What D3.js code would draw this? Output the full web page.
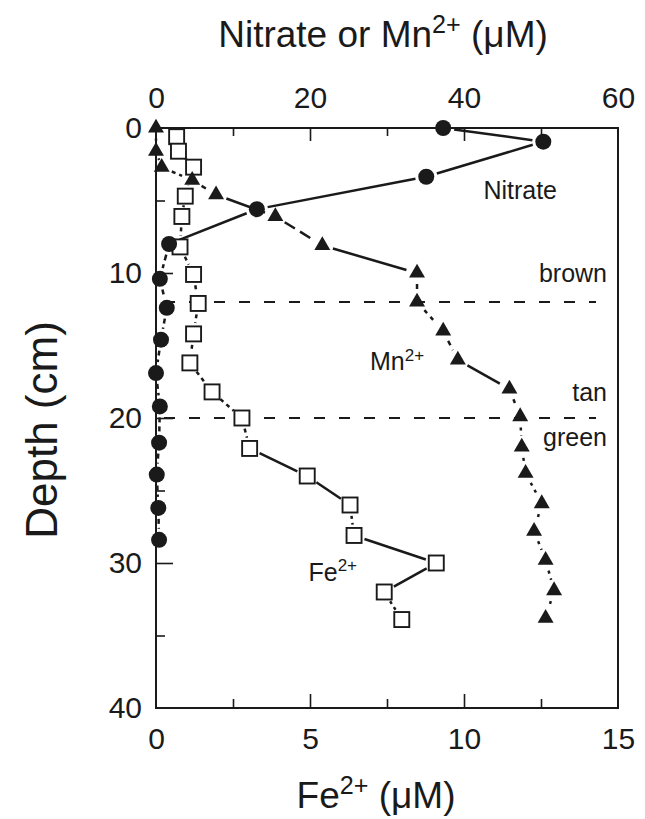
<!DOCTYPE html>
<html>
<head>
<meta charset="utf-8">
<script src="https://cdn.jsdelivr.net/npm/d3@7"></script>
<style>
  body { margin: 0; background: #fff; }
  svg { display: block; font-family: "Liberation Sans", Arial, sans-serif; }
</style>
</head>
<body>
<script>
// Depth profiles (cm)
const nitrateDepth = [0, 0.94, 3.36, 5.6, 8.0, 10.4, 12.4, 14.6, 16.9, 19.2, 21.7, 23.9, 26.2, 28.4];
const nitrateValue = [37.3, 50.3, 35.1, 13.1, 1.7, 0.5, 1.4, 0.65, 0, 0.5, 0.4, 0.1, 0.3, 0.4];

const mnDepth = [0, 1.6, 2.7, 3.6, 4.6, 6.1, 8.1, 10.0, 12.0, 14.0, 16.0, 18.0, 19.9, 22.0, 23.8, 25.9, 27.8, 29.8, 31.9, 33.8];
const mnValue = [0, 0, 0.74, 4.7, 7.8, 15.5, 21.6, 33.9, 33.9, 37.3, 39.2, 45.9, 47.3, 47.5, 48.0, 50.1, 49.1, 50.6, 51.7, 50.6];

const feDepth = [0.6, 1.6, 2.7, 4.7, 6.1, 8.2, 10.1, 12.1, 14.2, 16.2, 18.2, 20.0, 22.1, 24.0, 26.0, 28.1, 30.0, 32.0, 33.9];
const feValue = [0.67, 0.73, 1.22, 0.95, 0.84, 0.78, 1.22, 1.37, 1.22, 1.1, 1.82, 2.79, 3.04, 4.91, 6.3, 6.43, 9.1, 7.41, 7.98];

// sediment colour boundaries
const zoneBreaks = [12, 20];

const depthTicks = [0, 10, 20, 30, 40];
const topTicks = [0, 20, 40, 60];
const feTicks = [0, 5, 10, 15];

// dash pattern of each connecting segment (hand-drawn in the original)
const nitrateDash = ["", "", "", "", "6,4", "5,4", "5,4", "5,4", "5,4", "5,4", "5,4", "5,4", "5,4"];
const mnDash = ["4,4", "4,4", "4,4", "5,4", "", "12,6", "", "5,4", "4,5", "5,5", "", "4,4", "3,5", "3,5", "3,5", "3,5", "3,5", "3,5", "3,5"];
const feDash = ["4,4", "4,4", "4,4", "4,4", "4,4", "4,4", "4,4", "4,4", "4,4", "4,4", "4,4", "4,4", "", "", "3,4", "", "", "3,4"];

const W = 645, H = 819;
const margin = { top: 128, right: 27, bottom: 111, left: 156 };
const innerW = W - margin.left - margin.right;
const innerH = H - margin.top - margin.bottom;

const svg = d3.select("body").append("svg")
  .attr("width", W)
  .attr("height", H);

const g = svg.append("g")
  .attr("transform", `translate(${margin.left},${margin.top})`);

const y = d3.scaleLinear().domain([0, 40]).range([0, innerH]);
const xTop = d3.scaleLinear().domain([0, 60]).range([0, innerW]);
const xFe = d3.scaleLinear().domain([0, 15]).range([0, innerW]);

const ink = "#1a1a1a";

// frame
g.append("rect")
  .attr("width", innerW)
  .attr("height", innerH)
  .attr("fill", "none")
  .attr("stroke", ink)
  .attr("stroke-width", 2);

// inward ticks
g.append("g")
  .call(d3.axisBottom(xTop).tickValues([10, 20, 30, 40, 50]).tickSize(0).tickFormat(""))
  .call(ax => ax.select(".domain").remove())
  .call(ax => ax.selectAll(".tick line")
    .attr("y2", d => d % 20 === 0 ? 13 : 8)
    .attr("stroke", ink).attr("stroke-width", 1.6));

g.append("g")
  .attr("transform", `translate(0,${innerH})`)
  .call(d3.axisTop(xFe).tickValues([2.5, 5, 7.5, 10, 12.5]).tickSize(0).tickFormat(""))
  .call(ax => ax.select(".domain").remove())
  .call(ax => ax.selectAll(".tick line")
    .attr("y2", d => d % 5 === 0 ? -14 : -9)
    .attr("stroke", ink).attr("stroke-width", 1.6));

g.append("g")
  .call(d3.axisRight(y).tickValues([5, 10, 15, 20, 25, 30, 35]).tickSize(0).tickFormat(""))
  .call(ax => ax.select(".domain").remove())
  .call(ax => ax.selectAll(".tick line")
    .attr("x2", d => d % 10 === 0 ? 17 : 9)
    .attr("stroke", ink).attr("stroke-width", 1.6));

// tick labels
g.append("g")
  .call(d3.axisLeft(y).tickValues(depthTicks).tickSize(0).tickPadding(14))
  .call(ax => ax.select(".domain").remove())
  .call(ax => ax.selectAll("text")
    .attr("font-size", 30).attr("fill", ink).attr("font-family", null));

g.append("g")
  .call(d3.axisTop(xTop).tickValues(topTicks).tickSize(0).tickPadding(20))
  .call(ax => ax.select(".domain").remove())
  .call(ax => ax.selectAll("text")
    .attr("font-size", 30).attr("fill", ink).attr("font-family", null));

g.append("g")
  .attr("transform", `translate(0,${innerH})`)
  .call(d3.axisBottom(xFe).tickValues(feTicks).tickSize(0).tickPadding(20))
  .call(ax => ax.select(".domain").remove())
  .call(ax => ax.selectAll("text")
    .attr("font-size", 30).attr("fill", ink).attr("font-family", null));

// label with superscript
function supText(sel, base, sup, rest) {
  sel.append("tspan").text(base);
  sel.append("tspan").attr("dy", "-0.55em").attr("font-size", "0.68em").text(sup);
  if (rest) sel.append("tspan").attr("dy", "0.37em").text(rest);
  return sel;
}

// axis titles
supText(svg.append("text")
  .attr("x", 383)
  .attr("y", 47)
  .attr("text-anchor", "middle")
  .attr("font-size", 37)
  .attr("fill", ink), "Nitrate or Mn", "2+", " (\u03bcM)");

supText(svg.append("text")
  .attr("x", 376)
  .attr("y", 808)
  .attr("text-anchor", "middle")
  .attr("font-size", 37)
  .attr("fill", ink), "Fe", "2+", " (\u03bcM)");

svg.append("text")
  .attr("transform", `translate(57,${margin.top + innerH / 2 + 12}) rotate(-90)`)
  .attr("text-anchor", "middle")
  .attr("font-size", 44)
  .attr("fill", ink)
  .text("Depth (cm)");

// colour-zone boundaries
g.selectAll(".zone")
  .data(zoneBreaks)
  .join("line")
    .attr("class", "zone")
    .attr("x1", 8)
    .attr("x2", innerW - 22)
    .attr("y1", d => y(d))
    .attr("y2", d => y(d))
    .attr("stroke", ink)
    .attr("stroke-width", 1.8)
    .attr("stroke-dasharray", "11,14");

// connecting segments with a small gap at each marker
function drawSegments(depths, values, xs, dashes, gap) {
  const pts = depths.map((d, i) => [xs(values[i]), y(d)]);
  const segs = d3.pairs(pts).map(([a, b], i) => {
    const dx = b[0] - a[0], dy = b[1] - a[1];
    const len = Math.hypot(dx, dy);
    const k = Math.min(gap / len, 0.45);
    return {
      x1: a[0] + dx * k, y1: a[1] + dy * k,
      x2: b[0] - dx * k, y2: b[1] - dy * k,
      dash: dashes[i] || null
    };
  });
  g.append("g").selectAll("line")
    .data(segs)
    .join("line")
      .attr("x1", d => d.x1).attr("y1", d => d.y1)
      .attr("x2", d => d.x2).attr("y2", d => d.y2)
      .attr("stroke", ink)
      .attr("stroke-width", 2.5)
      .attr("stroke-dasharray", d => d.dash);
}

drawSegments(nitrateDepth, nitrateValue, xTop, nitrateDash, 11);
drawSegments(mnDepth, mnValue, xTop, mnDash, 11);
drawSegments(feDepth, feValue, xFe, feDash, 11);

// markers
g.append("g").selectAll("rect")
  .data(feDepth.map((d, i) => ({ d, v: feValue[i] })))
  .join("rect")
    .attr("x", p => xFe(p.v) - 7.5)
    .attr("y", p => y(p.d) - 7.5)
    .attr("width", 15)
    .attr("height", 15)
    .attr("fill", "#fff")
    .attr("stroke", ink)
    .attr("stroke-width", 1.9);

g.append("g").selectAll("path")
  .data(mnDepth.map((d, i) => ({ d, v: mnValue[i] })))
  .join("path")
    .attr("transform", p => `translate(${xTop(p.v)},${y(p.d)})`)
    .attr("d", d3.symbol(d3.symbolTriangle, 110))
    .attr("fill", ink);

g.append("g").selectAll("circle")
  .data(nitrateDepth.map((d, i) => ({ d, v: nitrateValue[i] })))
  .join("circle")
    .attr("cx", p => xTop(p.v))
    .attr("cy", p => y(p.d))
    .attr("r", 8)
    .attr("fill", ink);

// series and zone labels
const lbl = (x, yy, anchor) => g.append("text")
  .attr("x", x).attr("y", yy)
  .attr("text-anchor", anchor)
  .attr("font-size", 25)
  .attr("fill", ink);

lbl(xTop(47.3), y(4.3) + 9, "middle").text("Nitrate");
supText(lbl(xTop(27.8), y(16.1) + 9, "start"), "Mn", "2+");
supText(lbl(xFe(4.95), y(30.6) + 9, "start"), "Fe", "2+");
lbl(innerW - 11, y(10) + 9, "end").text("brown");
lbl(innerW - 11, y(18.2) + 9, "end").text("tan");
lbl(innerW - 11, y(21.3) + 9, "end").text("green");
</script>
</body>
</html>
